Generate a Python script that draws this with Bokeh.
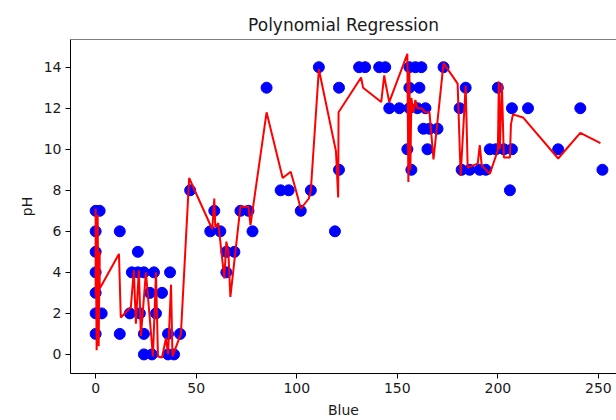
from bokeh.plotting import figure
from bokeh.models import Range1d, FixedTicker, Span
from bokeh.embed import file_html
from bokeh.resources import INLINE

# Blue (x) vs pH (y) observations
blue_vals = [24, 28, 36, 39,
             0, 12, 24, 36, 42,
             0, 3, 17, 22, 30,
             0, 27, 33,
             0, 18, 21, 24, 29, 37, 65,
             0, 21, 65, 69,
             0, 12, 57, 62, 78, 119,
             0, 2, 59, 72, 76, 102,
             47, 92, 96, 107, 206,
             121, 157, 182, 186, 191, 194, 252,
             155, 165, 196, 199, 203, 207, 230,
             163, 166, 170,
             146, 151, 156, 160, 164, 181, 207, 215, 241,
             85, 121, 156, 161, 184, 200,
             111, 131, 134, 141, 144, 156, 159, 162, 173]
ph_vals = [0, 0, 0, 0,
           1, 1, 1, 1, 1,
           2, 2, 2, 2, 2,
           3, 3, 3,
           4, 4, 4, 4, 4, 4, 4,
           5, 5, 5, 5,
           6, 6, 6, 6, 6, 6,
           7, 7, 7, 7, 7, 7,
           8, 8, 8, 8, 8,
           9, 9, 9, 9, 9, 9, 9,
           10, 10, 10, 10, 10, 10, 10,
           11, 11, 11,
           12, 12, 12, 12, 12, 12, 12, 12, 12,
           13, 13, 13, 13, 13, 13,
           14, 14, 14, 14, 14, 14, 14, 14, 14]

# Polynomial regression predictions, in plotting order
pred_blue = [0, 0, 0.5, 1, 1.5, 2, 2, 11.6, 12.5, 17.5, 19, 20, 21.5, 22.5,
             25, 28.5, 30, 31, 33, 35, 36, 37.5, 38.2, 42.4, 46.5, 58, 59,
             59.5, 61, 64, 65, 66, 67, 72, 76, 77, 85, 93, 97, 99.6, 102,
             106, 107, 111, 119.5, 120.6, 120.8, 132, 133, 142, 143.5, 144,
             146, 155, 155.5, 156, 156.5, 157, 158, 159, 160, 162, 164, 166,
             168, 173, 180, 181.5, 184, 185, 187.5, 190, 191, 192, 196, 200,
             200.5, 201, 202, 203, 206, 206.5, 207.5, 212.5, 230, 241, 251]
pred_ph = [2.9, 7.1, 0.2, 6.8, 0.4, 5.0, 3.2, 4.9, 1.8, 2.3, 4.1, 1.5, 4.1, 0.9,
           4.0, -0.1, 4.0, -0.1, -0.15, 0.8, 0.0, 3.4, -0.1, 1.0, 8.6, 6.1, 7.6,
           6.2, 6.4, 3.7, 5.5, 5.0, 2.8, 7.2, 7.2, 6.3, 11.8, 8.6, 8.9, 8.0, 7.1,
           7.6, 8.0, 13.9, 9.9, 7.65, 11.8, 13.5, 13.0, 12.3, 13.6, 13.3,
           12.3, 14.65, 8.4, 13.8, 9.0, 12.5, 11.8, 12.4, 12.0, 12.0, 11.8, 11.8,
           9.5, 14.2, 13.2, 8.7, 13.1, 9.1, 9.2, 9.3, 10.2, 9.2, 8.8, 9.95,
           13.3, 10.0, 13.2, 9.6, 9.6, 11.2, 11.7, 11.55, 9.55, 10.8, 10.3]

x_ticks = [0, 50, 100, 150, 200, 250]
y_ticks = [0, 2, 4, 6, 8, 10, 12, 14]

FONT = "DejaVu Sans"
TXT = "#1a1a1a"

p = figure(width=616, height=420, output_backend="svg", toolbar_location=None,
           x_range=Range1d(-12.5, 259.0), y_range=Range1d(-0.93, 15.35),
           min_border_left=70, min_border_right=0, min_border_top=39,
           min_border_bottom=46)

p.title.text = "Polynomial Regression"
p.title.align = "center"
p.title.text_font = FONT
p.title.text_font_style = "normal"
p.title.text_font_size = "17px"
p.title.text_color = TXT

p.xgrid.grid_line_color = None
p.ygrid.grid_line_color = None
p.outline_line_color = None
p.background_fill_color = "white"
p.border_fill_color = "white"

for ax, ticks, lab in ((p.xaxis[0], x_ticks, "Blue"), (p.yaxis[0], y_ticks, "pH")):
    ax.ticker = FixedTicker(ticks=ticks)
    ax.axis_label = lab
    ax.axis_label_text_font = FONT
    ax.axis_label_text_font_style = "normal"
    ax.axis_label_text_font_size = "14px"
    ax.axis_label_text_color = TXT
    ax.major_label_text_font = FONT
    ax.major_label_text_font_size = "14px"
    ax.major_label_text_color = TXT
    ax.major_tick_out = 5
    ax.major_tick_in = 0
    ax.minor_tick_line_color = None
    ax.axis_line_color = "black"
    ax.major_tick_line_color = "black"
    ax.major_label_standoff = 4
    ax.axis_label_standoff = 6

p.add_layout(Span(location=15.35, dimension="width", line_color="black", line_width=1))

p.scatter(blue_vals, ph_vals, size=11, color="blue", line_color="blue")
p.line(pred_blue, pred_ph, line_color="red", line_width=2)

open("out.html", "w").write(file_html(p, INLINE))
